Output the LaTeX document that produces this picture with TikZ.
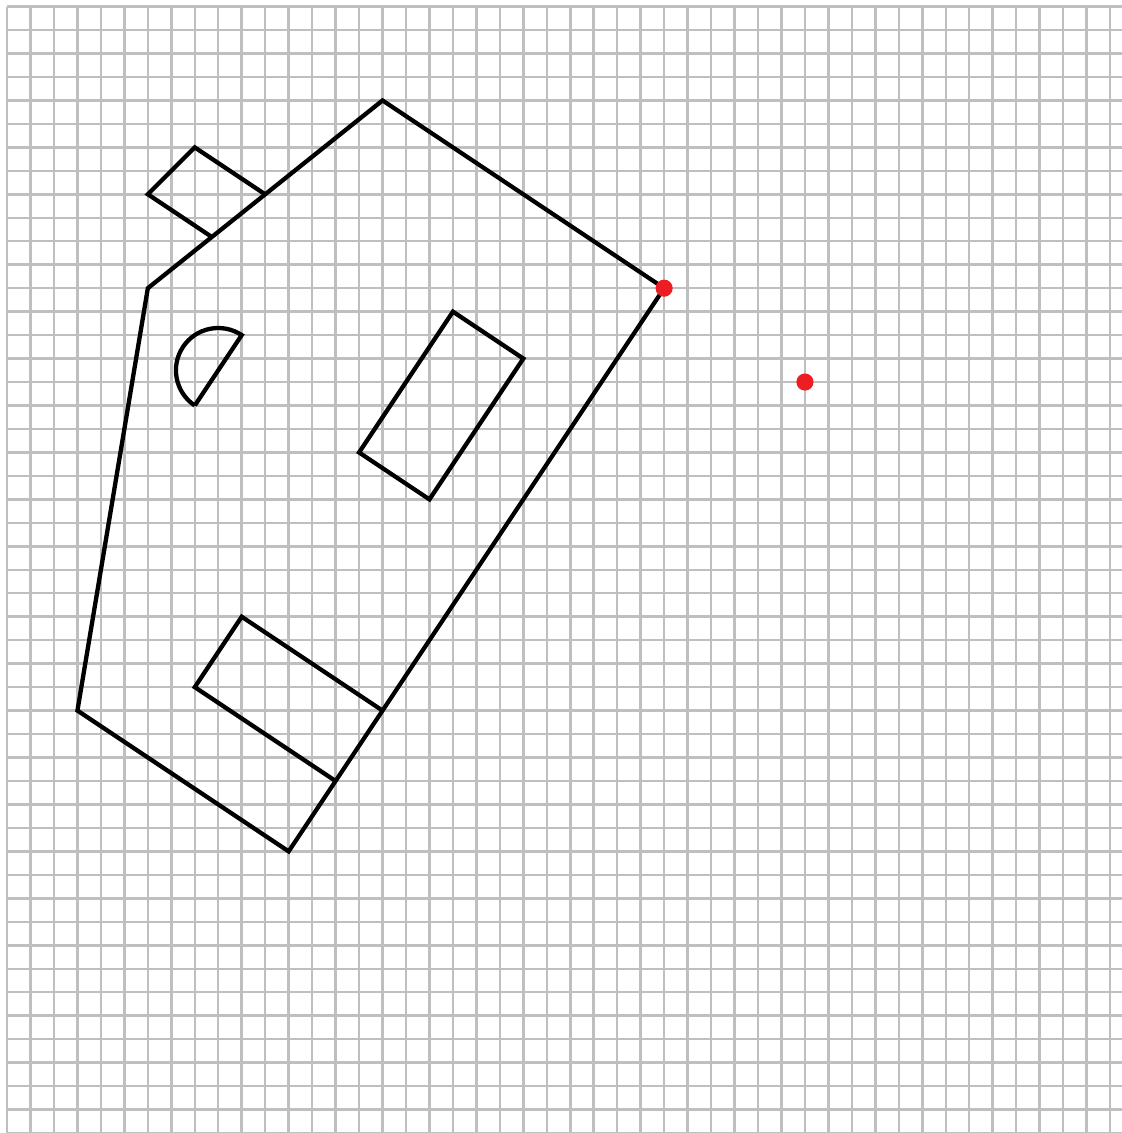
\documentclass[tikz,border=0pt]{standalone}
\usetikzlibrary{calc}
\definecolor{pivotred}{RGB}{236,30,36}
\tikzset{
    x=0.5cm, y=-0.5cm, % one square of the grid, y counts downwards
    gridline/.style={gray!50, line width=1.5pt}, % the squared paper
    houseline/.style={black, line width=2.6pt}, % outline of the house and its parts
    redpoint/.style={fill=pivotred}, % the two marked points
}
\begin{document}
\begin{tikzpicture}
    \useasboundingbox (-0.3,-0.28) rectangle (47.5,48.0);
    % grid
    \foreach \i in {0,...,47} \draw[gridline] (\i,0) -- (\i,48.5);
    \foreach \j in {0,...,48} \draw[gridline] (0,\j) -- (48,\j);
    % corners of the house
    \coordinate (top) at (16,4);
    \coordinate (right) at (28,12);
    \coordinate (bottom) at (12,36);
    \coordinate (left) at (3,30);
    \coordinate (eave) at (6,12);
    \coordinate (pivot) at (34,16);
    \draw[houseline] (top) -- (right) -- (bottom) -- (left) -- (eave) -- cycle;
    % chimney
    \coordinate (chimfoot) at ($(eave)!3/11!(top)$);
    \draw[houseline] (chimfoot) -- (6,8) -- (8,6) -- (11,8);
    % window
    \draw[houseline] (19,13) -- (22,15) -- (18,21) -- (15,19) -- cycle;
    % door
    \draw[houseline] (16,30) -- (10,26) -- (8,29) -- (14,33);
    % half-round window
    \draw[houseline] (8,17) -- (10,14) arc[start angle=-56.31, end angle=-236.31, radius=1.8028];
    % marked points
    \fill[redpoint] (right) circle (5.2pt);
    \fill[redpoint] (pivot) circle (5.2pt);
\end{tikzpicture}
\end{document}
